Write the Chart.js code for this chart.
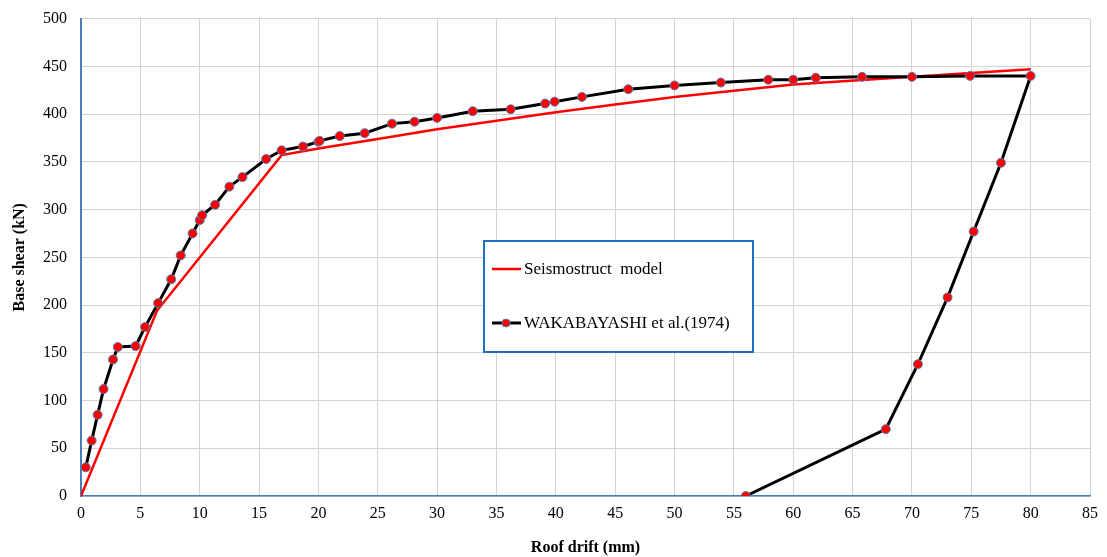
<!DOCTYPE html>
<html>
<head>
<meta charset="utf-8">
<script src="https://cdn.jsdelivr.net/npm/chart.js@4.4.0/dist/chart.umd.min.js"></script>
<style>
  html, body { margin: 0; padding: 0; background: white; }
  #wrap { width: 1107px; height: 557px; position: relative; overflow: hidden; }
  #myChart { position: absolute; left: 0; top: -5px; }
</style>
</head>
<body>
<div id="wrap"><canvas id="myChart" width="1107" height="562"></canvas></div>
<script>
// Experimental curve (Wakabayashi et al. 1974): drift mm, shear kN
const testDrift = [0.4, 0.9, 1.4, 1.9, 2.7, 3.1, 4.6, 5.4, 6.5, 7.6, 8.4, 9.4, 10.0, 10.2, 11.3, 12.5, 13.6,
    15.6, 16.9, 18.7, 20.0, 20.1, 21.8, 23.9, 26.2, 28.1, 30.0, 33.0, 36.2, 39.1, 39.9, 42.2, 46.1,
    50.0, 53.9, 57.9, 60.0, 61.9, 65.8, 70.0, 74.9, 80.0, 77.5, 75.2, 73.0, 70.5, 67.8, 56.0];
const testShear = [30, 58, 85, 112, 143, 156, 157, 177, 202, 227, 252, 275, 289, 294, 305, 324, 334,
    353, 362, 366, 371, 372, 377, 380, 390, 392, 396, 403, 405, 411, 413, 418, 426,
    430, 433, 436, 436, 438, 439, 439, 440, 440, 349, 277, 208, 138, 70, 0];

// Seismostruct model curve
const modelDrift = [0, 6.4, 16.9, 20, 25, 30, 35, 40, 45, 50, 60, 70, 80];
const modelShear = [0, 194, 357, 364, 374, 384, 393, 402, 410, 418, 431, 439, 447];

const xTicks = [0, 5, 10, 15, 20, 25, 30, 35, 40, 45, 50, 55, 60, 65, 70, 75, 80, 85];

const toXY = (xs, ys) => xs.map((x, i) => ({ x: x, y: ys[i] }));

const serif = '"Liberation Serif", "Times New Roman", serif';
Chart.defaults.font.family = serif;
Chart.defaults.color = '#000';

// legend box drawn inside the plot, like the original (canvas is shifted up 5px)
const boxLegend = {
    id: 'boxLegend',
    afterDraw(chart) {
        const c = chart.ctx;
        const dy = 5;
        const x0 = 484, y0 = 241 + dy, w = 269, h = 111;
        c.save();
        c.fillStyle = '#fff';
        c.fillRect(x0, y0, w, h);
        c.strokeStyle = '#1f6fc0';
        c.lineWidth = 2;
        c.strokeRect(x0, y0, w, h);

        c.font = '17px ' + serif;
        c.fillStyle = '#000';
        c.textBaseline = 'middle';

        // first entry
        c.strokeStyle = '#ff0000';
        c.lineWidth = 2.5;
        c.beginPath(); c.moveTo(492, 269 + dy); c.lineTo(521, 269 + dy); c.stroke();
        c.fillText('Seismostruct  model', 524, 270 + dy);

        // second entry
        c.strokeStyle = '#000';
        c.lineWidth = 3;
        c.beginPath(); c.moveTo(492, 323 + dy); c.lineTo(521, 323 + dy); c.stroke();
        c.beginPath(); c.arc(506, 323 + dy, 4, 0, Math.PI * 2);
        c.fillStyle = '#ff0000'; c.fill();
        c.strokeStyle = '#4f81bd'; c.lineWidth = 1; c.stroke();
        c.fillStyle = '#000';
        c.fillText('WAKABAYASHI et al.(1974)', 524, 324 + dy);
        c.restore();
    }
};

const ctx = document.getElementById('myChart').getContext('2d');
const myChart = new Chart(ctx, {
    type: 'scatter',
    data: {
        datasets: [{
            label: 'WAKABAYASHI et al.(1974)',
            data: toXY(testDrift, testShear),
            showLine: true,
            borderColor: '#000',
            borderWidth: 3,
            pointRadius: 4.5,
            pointBackgroundColor: '#ff0000',
            pointBorderColor: '#4f81bd',
            pointBorderWidth: 1,
            tension: 0,
            order: 1
        }, {
            label: 'Seismostruct  model',
            data: toXY(modelDrift, modelShear),
            showLine: true,
            borderColor: '#ff0000',
            borderWidth: 2.5,
            pointRadius: 0,
            tension: 0,
            order: 2
        }]
    },
    options: {
        responsive: false,
        animation: false,
        layout: { padding: { top: 13, right: 17, left: 0, bottom: 0 } },
        plugins: {
            legend: { display: false },
            tooltip: { enabled: false }
        },
        scales: {
            x: {
                type: 'linear',
                min: 0, max: 85,
                afterBuildTicks: axis => { axis.ticks = xTicks.map(v => ({ value: v })); },
                afterFit: axis => { axis.height = 61; },
                ticks: { font: { size: 16 }, padding: 8, maxRotation: 0 },
                grid: { color: '#d4d4d4', lineWidth: 1, drawTicks: false },
                border: { color: '#4a7ebb', width: 1.5 },
                title: {
                    display: true,
                    text: 'Roof drift (mm)',
                    font: { size: 16, weight: 'bold' },
                    padding: { top: 8, bottom: 0 }
                }
            },
            y: {
                min: 0, max: 500,
                afterFit: axis => { axis.width = 81; },
                ticks: { stepSize: 50, font: { size: 16 }, padding: 14 },
                grid: { color: '#d4d4d4', lineWidth: 1, drawTicks: false },
                border: { color: '#4a7ebb', width: 2 },
                title: {
                    display: true,
                    text: 'Base shear (kN)',
                    font: { size: 16, weight: 'bold' },
                    padding: { top: 10, bottom: 4 }
                }
            }
        }
    },
    plugins: [boxLegend]
});
</script>
</body>
</html>
